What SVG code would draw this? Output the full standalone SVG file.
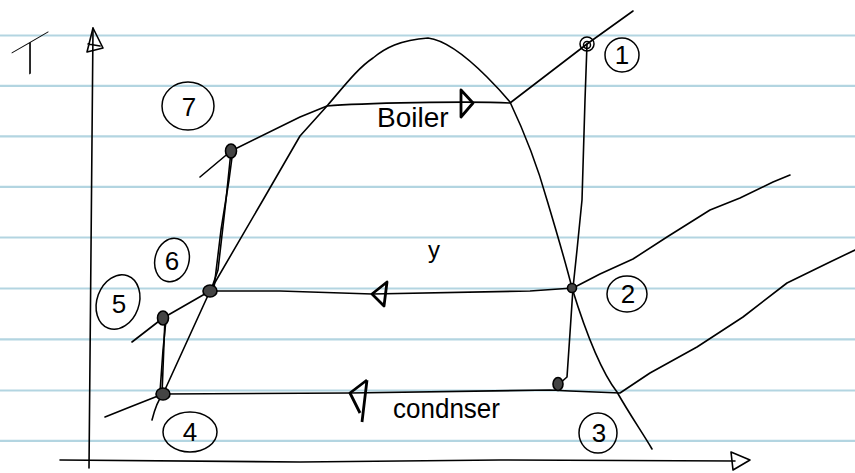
<svg xmlns="http://www.w3.org/2000/svg" width="855" height="473" viewBox="0 0 855 473">
<style>
.rule{stroke:#b3d5e1;stroke-width:2.2}
.ink{fill:none;stroke:#000;stroke-width:1.6;stroke-linecap:round;stroke-linejoin:round}
.arr{fill:none;stroke:#000;stroke-width:2.8;stroke-linejoin:round}
.dot{fill:#444;stroke:#000;stroke-width:1.6}
.ring{fill:none;stroke:#000;stroke-width:1.5}
.lbl{font-family:"Liberation Sans",Arial,sans-serif;font-size:26px;fill:#000;text-anchor:middle}
.txt{font-family:"Liberation Sans",Arial,sans-serif;fill:#000}
</style>
<rect width="855" height="473" fill="#fff"/>
<g id="paper">
<line class="rule" x1="0" y1="35.5" x2="855" y2="35.5"/>
<line class="rule" x1="0" y1="85.8" x2="855" y2="85.8"/>
<line class="rule" x1="0" y1="136.3" x2="855" y2="136.3"/>
<line class="rule" x1="0" y1="186.8" x2="855" y2="186.8"/>
<line class="rule" x1="0" y1="237.5" x2="855" y2="237.5"/>
<line class="rule" x1="0" y1="288.5" x2="855" y2="288.5"/>
<line class="rule" x1="0" y1="339.3" x2="855" y2="339.3"/>
<line class="rule" x1="0" y1="390.5" x2="855" y2="390.5"/>
<line class="rule" x1="0" y1="440.8" x2="855" y2="440.8"/>
</g>
<g id="axes">
<path class="ink" d="M89,468 L91,250 L93,28"/>
<path class="ink" d="M93,28 L87,52 L103,48 Z M88,44 L100,46"/>
<path class="ink" d="M60,460 L300,462 L500,460 L735,461"/>
<path class="ink" d="M731,452 L750,460 L733,470 Z"/>
<text font-family="Inter,'DejaVu Sans',sans-serif" font-weight="100" font-size="44" fill="#000" text-anchor="middle" transform="translate(30,74) skewY(-30) scale(1.7,1)">T</text>
</g>
<g id="dome">
<path class="ink" d="M152,420 C155,408 158,400 163,394 L210,291 L263,200 L300,136 L327,106 C345,85 358,68 373,58 C385,48 400,40 428,38 C445,40 465,55 487,77 C500,90 505,96 510,102 C528,140 540,175 547,200 C556,230 565,260 572,288 C585,330 600,370 617,392 C630,415 642,432 652,449"/>
</g>
<g id="connectors">
<path class="ink" d="M200,177 L231,151 L300,117 L327,106 C360,103 470,101 510,103 L587,44 L633,11"/>
<path class="ink" d="M132,342 L163,318 L210,291 L280,291 L372,294 L530,291 L573,288 L600,274 L633,259 L667,237 L710,210 L740,198 L773,182 L790,175"/>
<path class="ink" d="M105,417 L130,407 L163,394 L350,393 L550,390 L570,391 L620,393 L650,373 L697,347 L743,317 L787,283 L830,262 L855,250"/>
<path class="ink" d="M587,44 L585,100 L582,200 L577,250 L573,288 L570,333 L567,377 L558,385"/>
<path class="ink" d="M162,394 L165,318"/>
<path class="ink" d="M160,392 L163,350 L166,320"/>
<path class="ink" d="M211,290 L218,270 L226,200 L231,151"/>
<path class="ink" d="M214,288 L221,230 L229,180 L233,150"/>
<path class="arr" d="M461,90 L473,103 L461,117 Z"/>
<path class="arr" d="M387,282 L372,294 L384,306 Z"/>
<path class="arr" d="M367,380 L350,393 L360,413 M367,380 L362,422"/>
</g>
<g id="state1">
<circle class="ring" cx="587" cy="44" r="7"/>
<circle class="ring" cx="587" cy="45" r="3.5"/>
<ellipse class="ring" cx="622" cy="55" rx="17" ry="17"/>
<text class="lbl" x="622" y="64">1</text>
</g>
<g id="state2">
<circle class="dot" cx="572" cy="288" r="4.5"/>
<ellipse class="ring" cx="627" cy="294" rx="20" ry="18"/>
<text class="lbl" x="628" y="303">2</text>
</g>
<g id="state3">
<ellipse class="dot" cx="558" cy="384" rx="5" ry="6.5"/>
<ellipse class="ring" cx="598" cy="433" rx="19" ry="20"/>
<text class="lbl" x="599" y="442">3</text>
</g>
<g id="state4">
<ellipse class="dot" cx="163" cy="394" rx="7" ry="6"/>
<ellipse class="ring" cx="190" cy="432" rx="27" ry="20"/>
<text class="lbl" x="190" y="441">4</text>
</g>
<g id="state5">
<ellipse class="dot" cx="163" cy="318" rx="5.5" ry="7"/>
<ellipse class="ring" cx="118" cy="302" rx="21" ry="28" transform="rotate(20 118 302)"/>
<text class="lbl" x="119" y="313">5</text>
</g>
<g id="state6">
<ellipse class="dot" cx="210" cy="291" rx="7" ry="6"/>
<ellipse class="ring" cx="172" cy="260" rx="17" ry="22" transform="rotate(15 172 260)"/>
<text class="lbl" x="172" y="270">6</text>
</g>
<g id="state7">
<ellipse class="dot" cx="231" cy="151" rx="5.5" ry="7"/>
<ellipse class="ring" cx="188" cy="106" rx="26" ry="24"/>
<text class="lbl" x="189" y="116">7</text>
</g>
<g id="labels">
<text class="txt" font-size="28" x="377" y="127">Boiler</text>
<text class="txt" font-size="28" x="393" y="418" textLength="107" lengthAdjust="spacingAndGlyphs">condnser</text>
<text class="txt" font-size="24" x="428" y="258">y</text>
</g>
</svg>
